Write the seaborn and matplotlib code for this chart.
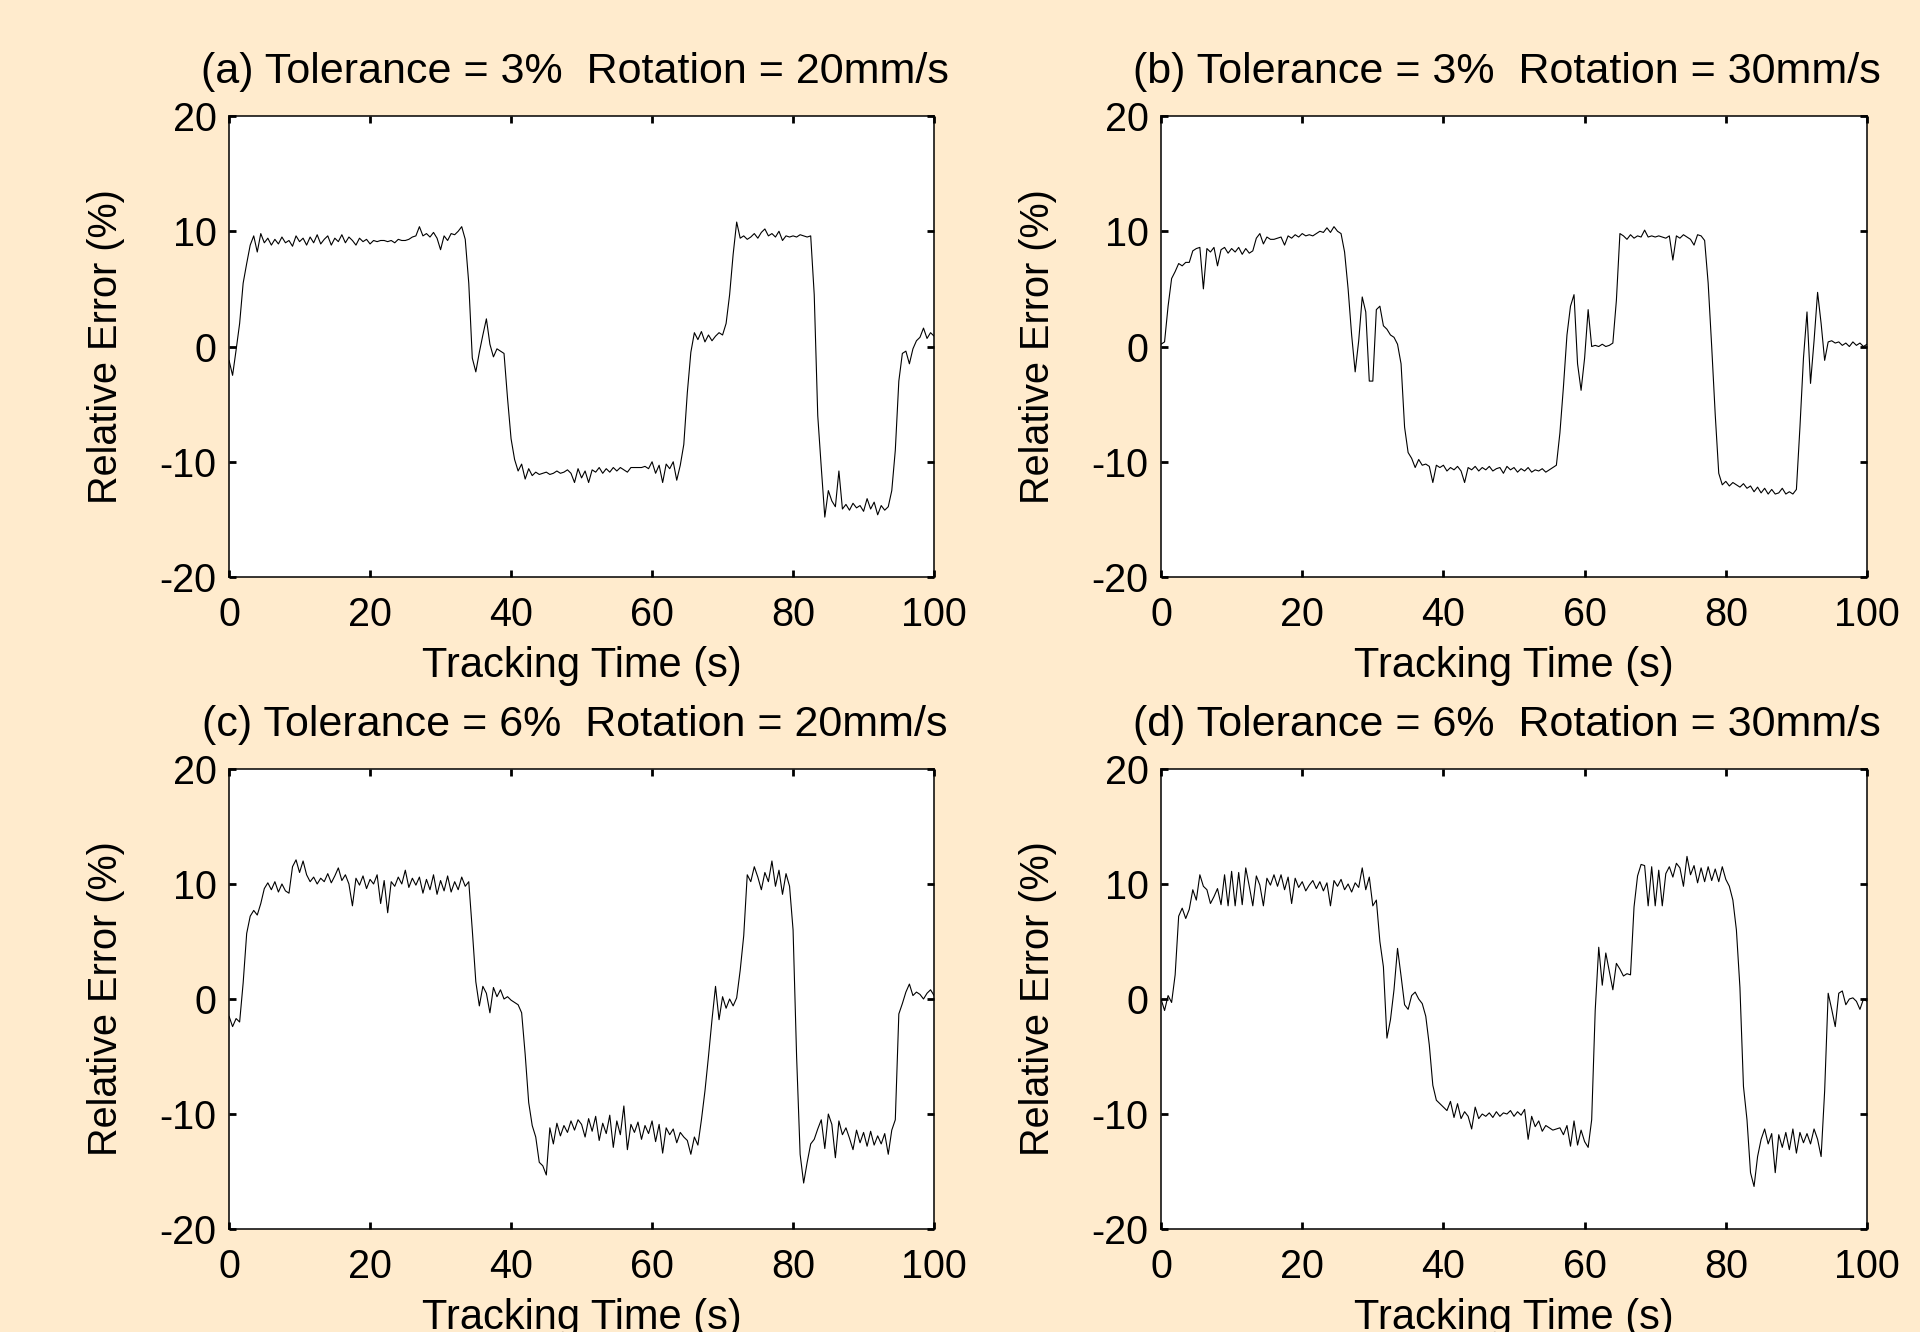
import numpy as np
import pandas as pd
import matplotlib
matplotlib.use("Agg")
import matplotlib.pyplot as plt
import seaborn as sns

tempo = np.linspace(0, 100, 201)

erro_a = [
    -1.2, -2.5, -0.3, 2.0, 5.5, 7.2, 8.8, 9.6, 8.2, 9.8,
    9.0, 9.4, 8.8, 9.3, 8.9, 9.5, 9.0, 9.2, 8.7, 9.6,
    9.1, 9.4, 8.8, 9.5, 9.0, 9.7, 8.9, 9.3, 9.6, 8.8,
    9.4, 9.1, 9.7, 9.0, 9.5, 9.2, 8.8, 9.4, 9.1, 9.3,
    8.9, 9.2, 9.1, 9.2, 9.2, 9.1, 9.2, 9.0, 9.3, 9.2,
    9.2, 9.3, 9.5, 9.6, 10.4, 9.6, 9.8, 9.5, 9.9, 9.4,
    8.4, 9.6, 9.2, 9.8, 9.7, 10.0, 10.4, 9.3, 5.5, -1.0,
    -2.2, -0.5, 1.0, 2.4, 0.2, -0.9, -0.2, -0.4, -0.6, -4.5,
    -8.0, -9.8, -10.8, -10.2, -11.5, -10.6, -11.2, -10.9, -11.1, -11.0,
    -10.9, -11.1, -11.0, -10.8, -11.0, -10.9, -10.7, -11.0, -11.8, -10.6,
    -11.4, -10.8, -11.8, -10.7, -10.9, -10.5, -11.0, -10.6, -10.9, -10.5,
    -10.8, -10.5, -10.7, -10.9, -10.5, -10.5, -10.5, -10.5, -10.4, -10.6,
    -10.0, -11.0, -10.3, -11.8, -10.2, -10.6, -10.0, -11.6, -10.3, -8.5,
    -4.0, -0.5, 1.2, 0.6, 1.3, 0.4, 1.0, 0.5, 0.9, 1.2,
    1.0, 2.0, 4.5, 8.0, 10.8, 9.4, 9.6, 9.3, 9.5, 9.8,
    9.4, 9.9, 10.2, 9.6, 9.8, 9.5, 10.0, 9.2, 9.6, 9.5,
    9.6, 9.5, 9.7, 9.6, 9.5, 9.6, 4.5, -6.0, -10.5, -14.8,
    -12.5, -13.4, -13.9, -10.8, -14.1, -13.7, -14.2, -13.6, -14.0, -13.8,
    -14.3, -13.2, -14.1, -13.5, -14.6, -13.8, -14.2, -13.9, -12.5, -9.0,
    -3.0, -0.6, -0.4, -1.5, -0.2, 0.5, 0.8, 1.6, 0.7, 1.2,
    0.9]

erro_b = [
    0.2, 0.4, 3.5, 5.9, 6.5, 7.2, 7.0, 7.3, 7.3, 8.3,
    8.5, 8.6, 5.0, 8.5, 8.2, 8.6, 7.0, 8.4, 8.6, 8.1,
    8.5, 8.2, 8.6, 8.0, 8.5, 8.1, 8.3, 9.4, 9.8, 8.9,
    9.5, 9.3, 9.3, 9.4, 9.5, 8.8, 9.6, 9.4, 9.7, 9.5,
    9.8, 9.6, 9.7, 9.6, 9.8, 10.0, 9.9, 10.3, 9.9, 10.4,
    10.0, 9.8, 8.2, 5.0, 1.0, -2.2, 0.5, 4.3, 3.0, -3.0,
    -3.0, 3.2, 3.5, 1.8, 1.5, 1.0, 0.8, 0.2, -1.5, -7.0,
    -9.2, -9.7, -10.5, -9.8, -10.3, -10.2, -10.4, -11.8, -10.3, -10.5,
    -10.3, -10.8, -10.5, -10.7, -10.4, -10.8, -11.8, -10.5, -10.7, -10.4,
    -10.8, -10.5, -10.7, -10.4, -10.8, -10.6, -10.5, -11.0, -10.4, -10.7,
    -10.5, -10.9, -10.6, -10.8, -10.5, -10.9, -10.7, -10.8, -10.6, -10.9,
    -10.7, -10.5, -10.3, -7.5, -3.5, 1.0, 3.5, 4.5, -1.5, -3.8,
    -1.0, 3.2, 0.0, 0.1, 0.0, 0.2, 0.0, 0.1, 0.3, 4.0,
    9.8, 9.6, 9.3, 9.7, 9.4, 9.6, 9.5, 10.1, 9.5, 9.6,
    9.5, 9.6, 9.5, 9.4, 9.6, 7.5, 9.6, 9.4, 9.7, 9.5,
    9.3, 8.8, 9.7, 9.6, 9.2, 5.5, 0.0, -5.9, -11.0, -12.0,
    -11.7, -12.1, -11.8, -12.0, -12.2, -11.9, -12.3, -12.1, -12.6, -12.2,
    -12.7, -12.3, -12.8, -12.4, -12.8, -12.7, -12.3, -12.8, -12.6, -12.8,
    -12.4, -7.0, -1.0, 3.0, -3.2, 0.5, 4.7, 2.0, -1.2, 0.4,
    0.5, 0.3, 0.4, 0.1, 0.3, 0.0, 0.4, 0.1, 0.3, 0.0,
    0.2]

erro_c = [
    -1.5, -2.4, -1.7, -2.0, 1.4, 5.7, 7.2, 7.7, 7.3, 8.3,
    9.6, 10.1, 9.5, 10.2, 9.3, 10.0, 9.4, 9.2, 11.5, 12.1,
    11.0, 12.0, 10.8, 10.2, 10.6, 10.0, 10.5, 10.2, 10.9, 10.1,
    10.7, 11.4, 10.3, 10.8, 10.0, 8.1, 10.5, 9.9, 10.7, 9.6,
    10.4, 10.0, 10.8, 8.3, 10.3, 7.5, 10.2, 9.8, 10.6, 10.0,
    11.2, 9.7, 10.5, 9.9, 10.6, 9.2, 10.4, 9.5, 10.8, 9.1,
    10.3, 9.4, 10.7, 9.3, 10.2, 9.5, 10.6, 9.8, 10.2, 6.0,
    1.5, -0.6, 1.1, 0.5, -1.2, 1.0, 0.2, 0.8, 0.0, 0.2,
    -0.1, -0.3, -0.5, -1.2, -4.8, -9.0, -11.0, -12.0, -14.2, -14.5,
    -15.3, -11.2, -12.6, -10.8, -11.9, -11.0, -11.6, -10.6, -11.4, -10.5,
    -10.9, -12.0, -10.4, -11.5, -10.2, -12.3, -10.8, -11.7, -10.1, -12.9,
    -10.6, -11.8, -9.3, -13.1, -10.9, -11.6, -10.7, -12.2, -11.0, -11.7,
    -10.6, -12.4, -10.9, -13.4, -11.2, -11.8, -11.3, -12.5, -11.6, -12.0,
    -12.3, -13.5, -12.0, -12.7, -10.5, -8.0, -5.0, -1.8, 1.1, -1.8,
    0.2, -0.8, 0.0, -0.6, 0.1, 2.5, 5.5, 10.8, 10.2, 11.5,
    10.6, 9.5, 11.0, 10.2, 12.0, 9.8, 11.2, 9.1, 10.9, 9.8,
    6.0, -5.0, -13.5, -16.0, -14.2, -12.6, -12.2, -11.3, -10.5, -13.0,
    -10.0, -10.9, -13.8, -10.6, -11.8, -11.2, -12.1, -13.1, -11.4, -12.5,
    -11.6, -12.8, -11.5, -12.7, -11.9, -12.6, -11.7, -13.5, -11.4, -10.5,
    -1.3, -0.4, 0.6, 1.3, 0.3, 0.6, 0.4, 0.0, 0.5, 0.8,
    0.3]

erro_d = [
    0.0, -1.0, 0.3, -0.3, 2.1, 7.2, 7.9, 7.0, 7.8, 9.5,
    8.6, 10.8, 9.8, 9.5, 8.3, 8.9, 9.6, 8.2, 10.8, 8.1,
    11.1, 8.1, 11.0, 8.2, 11.4, 9.8, 8.1, 10.7, 9.9, 8.1,
    10.5, 9.9, 10.8, 9.8, 10.8, 9.5, 10.6, 8.3, 10.5, 9.7,
    10.2, 9.4, 9.9, 10.3, 9.6, 10.2, 9.4, 10.1, 8.1, 10.3,
    9.8, 10.4, 9.5, 10.0, 9.3, 10.1, 9.7, 11.4, 9.5, 10.6,
    8.1, 8.6, 5.0, 2.8, -3.4, -1.8, 0.8, 4.4, 2.0, -0.5,
    -0.9, 0.3, 0.6, 0.0, -0.4, -1.5, -4.0, -7.5, -8.8, -9.1,
    -9.4, -9.7, -8.9, -10.3, -9.1, -10.4, -9.8, -10.2, -11.3, -9.4,
    -10.4, -10.0, -10.2, -9.9, -10.3, -9.8, -10.2, -9.9, -10.0, -9.7,
    -10.2, -9.8, -10.1, -9.6, -12.2, -10.2, -11.1, -10.6, -11.5, -11.0,
    -11.2, -11.4, -11.3, -11.2, -11.8, -11.0, -12.8, -10.6, -12.7, -11.4,
    -12.4, -12.9, -10.5, -1.0, 4.5, 1.2, 4.0, 2.4, 0.8, 3.1,
    2.6, 2.0, 2.2, 2.1, 8.0, 10.7, 11.7, 11.6, 8.1, 11.5,
    8.1, 11.2, 8.1, 10.9, 11.5, 10.6, 11.8, 11.4, 9.8, 12.4,
    10.8, 11.6, 10.1, 11.4, 10.2, 11.5, 10.3, 11.3, 10.2, 11.5,
    10.4, 9.8, 8.6, 6.0, 1.0, -7.6, -10.5, -15.1, -16.3, -13.7,
    -12.2, -11.3, -12.6, -11.7, -15.1, -11.8, -12.9, -11.6, -13.1, -11.3,
    -13.4, -11.6, -12.5, -11.7, -12.6, -11.3, -12.2, -13.7, -8.0, 0.5,
    -0.9, -2.4, 0.5, 0.7, -0.5, 0.0, 0.1, -0.2, -0.9, 0.0,
    -0.2]

titulos = ["(a) Tolerance = 3%  Rotation = 20mm/s",
           "(b) Tolerance = 3%  Rotation = 30mm/s",
           "(c) Tolerance = 6%  Rotation = 20mm/s",
           "(d) Tolerance = 6%  Rotation = 30mm/s"]
series = [erro_a, erro_b, erro_c, erro_d]
xticks = [0, 20, 40, 60, 80, 100]
yticks = [-20, -10, 0, 10, 20]

sns.set_style("ticks")
plt.rcParams['font.family'] = ['Liberation Sans', 'DejaVu Sans']
plt.rcParams['axes.unicode_minus'] = False
plt.rcParams['text.color'] = 'black'
plt.rcParams['axes.labelcolor'] = 'black'
plt.rcParams['xtick.color'] = 'black'
plt.rcParams['ytick.color'] = 'black'

fundo = "#FFEBCD"
fig = plt.figure(figsize=(19.2, 13.32), dpi=100, facecolor=fundo)

# axes boxes in figure fractions (left, bottom, width, height)
caixas = [(0.1193, 0.5668, 0.3672, 0.3461),
          (0.6047, 0.5668, 0.3677, 0.3461),
          (0.1193, 0.0773, 0.3672, 0.3454),
          (0.6047, 0.0773, 0.3677, 0.3454)]

for caixa, titulo, erro in zip(caixas, titulos, series):
    ax = fig.add_axes(caixa)
    ax.set_facecolor("white")
    df = pd.DataFrame({"Tempo": tempo, "Erro": erro})
    sns.lineplot(data=df, x="Tempo", y="Erro", ax=ax, color="black",
                 linewidth=0.8, estimator=None, sort=False)
    ax.set_xlim(0, 100)
    ax.set_ylim(-20, 20)
    ax.set_xticks(xticks)
    ax.set_yticks(yticks)
    ax.tick_params(direction="in", length=5, width=2, top=True, right=True,
                   labelsize=28.5, colors="black")
    ax.tick_params(axis="x", pad=14)
    ax.tick_params(axis="y", pad=9)
    for s in ax.spines.values():
        s.set_linewidth(1.1)
        s.set_color("black")
    ax.set_title(titulo, fontsize=31, pad=24, x=0.49, color="black")
    ax.set_xlabel("Tracking Time (s)", fontsize=30)
    ax.set_ylabel("Relative Error (%)", fontsize=28.5)
    ax.xaxis.set_label_coords(0.5, -0.15)
    ax.yaxis.set_label_coords(-0.148, 0.5)

fig.savefig("out.png", dpi=100, facecolor=fundo)
